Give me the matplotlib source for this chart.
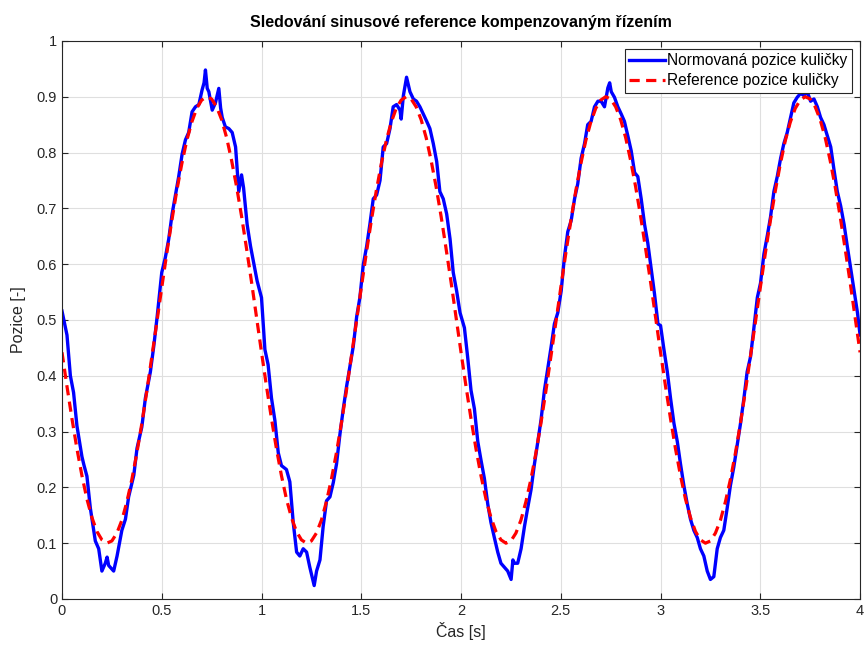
import numpy as np
import matplotlib
matplotlib.use("Agg")
import matplotlib.pyplot as plt

plt.rcParams['font.family'] = ['Liberation Sans', 'DejaVu Sans']

pos_t = [0.000, 0.025, 0.042, 0.058, 0.075, 0.100, 0.110, 0.125, 0.142, 0.167,
         0.184, 0.200, 0.217, 0.226, 0.234, 0.259, 0.276, 0.300, 0.318, 0.334,
         0.360, 0.376, 0.400, 0.418, 0.443, 0.460, 0.477, 0.500, 0.518, 0.535,
         0.552, 0.569, 0.585, 0.602, 0.619, 0.635, 0.652, 0.669, 0.686, 0.702,
         0.712, 0.719, 0.728, 0.736, 0.753, 0.769, 0.786, 0.795, 0.803, 0.819,
         0.836, 0.853, 0.870, 0.886, 0.900, 0.910, 0.928, 0.945, 0.962, 0.978,
         1.000, 1.017, 1.033, 1.050, 1.067, 1.084, 1.100, 1.125, 1.142, 1.159,
         1.176, 1.192, 1.209, 1.226, 1.242, 1.264, 1.276, 1.293, 1.309, 1.326,
         1.343, 1.360, 1.376, 1.393, 1.410, 1.426, 1.443, 1.460, 1.477, 1.493,
         1.510, 1.527, 1.543, 1.560, 1.577, 1.594, 1.610, 1.627, 1.644, 1.660,
         1.677, 1.694, 1.700, 1.711, 1.727, 1.744, 1.761, 1.777, 1.794, 1.811,
         1.828, 1.844, 1.861, 1.878, 1.894, 1.911, 1.928, 1.945, 1.961, 1.978,
         1.995, 2.017, 2.033, 2.050, 2.067, 2.084, 2.100, 2.117, 2.134, 2.150,
         2.167, 2.184, 2.200, 2.217, 2.234, 2.251, 2.260, 2.268, 2.284, 2.301,
         2.318, 2.334, 2.351, 2.368, 2.385, 2.401, 2.418, 2.435, 2.452, 2.468,
         2.485, 2.502, 2.518, 2.535, 2.552, 2.569, 2.585, 2.602, 2.619, 2.635,
         2.652, 2.669, 2.686, 2.702, 2.719, 2.736, 2.745, 2.753, 2.769, 2.786,
         2.803, 2.819, 2.836, 2.853, 2.870, 2.886, 2.903, 2.920, 2.936, 2.953,
         2.970, 2.987, 3.000, 3.017, 3.034, 3.050, 3.067, 3.084, 3.100, 3.117,
         3.134, 3.150, 3.167, 3.184, 3.200, 3.217, 3.234, 3.250, 3.267, 3.284,
         3.300, 3.317, 3.334, 3.350, 3.367, 3.384, 3.401, 3.418, 3.434, 3.451,
         3.468, 3.485, 3.501, 3.518, 3.535, 3.551, 3.568, 3.585, 3.602, 3.618,
         3.635, 3.652, 3.668, 3.685, 3.702, 3.719, 3.735, 3.752, 3.769, 3.786,
         3.802, 3.819, 3.836, 3.853, 3.869, 3.886, 3.903, 3.920, 3.936, 3.953,
         3.970, 3.987, 4.000]
pos_v = [0.516, 0.473, 0.400, 0.370, 0.310, 0.255, 0.240, 0.220, 0.163, 0.104,
         0.090, 0.050, 0.064, 0.075, 0.060, 0.050, 0.077, 0.123, 0.143, 0.183,
         0.222, 0.270, 0.308, 0.360, 0.407, 0.453, 0.506, 0.585, 0.612, 0.645,
         0.690, 0.724, 0.757, 0.797, 0.823, 0.836, 0.873, 0.882, 0.886, 0.912,
         0.925, 0.948, 0.915, 0.909, 0.876, 0.889, 0.915, 0.880, 0.863, 0.846,
         0.843, 0.836, 0.810, 0.730, 0.760, 0.737, 0.671, 0.632, 0.600, 0.570,
         0.540, 0.447, 0.420, 0.360, 0.320, 0.262, 0.239, 0.232, 0.210, 0.137,
         0.084, 0.077, 0.090, 0.084, 0.057, 0.024, 0.050, 0.070, 0.130, 0.176,
         0.183, 0.209, 0.242, 0.295, 0.341, 0.380, 0.417, 0.453, 0.506, 0.540,
         0.599, 0.632, 0.671, 0.717, 0.724, 0.750, 0.810, 0.816, 0.843, 0.882,
         0.886, 0.876, 0.860, 0.902, 0.935, 0.909, 0.896, 0.892, 0.882, 0.869,
         0.856, 0.843, 0.816, 0.784, 0.730, 0.717, 0.690, 0.645, 0.585, 0.552,
         0.513, 0.486, 0.434, 0.374, 0.341, 0.282, 0.249, 0.216, 0.170, 0.137,
         0.110, 0.084, 0.064, 0.057, 0.050, 0.035, 0.070, 0.064, 0.064, 0.090,
         0.130, 0.163, 0.196, 0.242, 0.282, 0.321, 0.374, 0.413, 0.453, 0.493,
         0.513, 0.552, 0.612, 0.658, 0.678, 0.717, 0.744, 0.790, 0.816, 0.850,
         0.856, 0.882, 0.892, 0.892, 0.882, 0.916, 0.925, 0.909, 0.899, 0.882,
         0.869, 0.856, 0.830, 0.803, 0.764, 0.757, 0.717, 0.671, 0.638, 0.592,
         0.546, 0.493, 0.490, 0.447, 0.407, 0.360, 0.315, 0.282, 0.242, 0.203,
         0.170, 0.143, 0.123, 0.110, 0.090, 0.077, 0.050, 0.035, 0.040, 0.090,
         0.110, 0.123, 0.163, 0.203, 0.236, 0.275, 0.315, 0.360, 0.407, 0.434,
         0.486, 0.540, 0.566, 0.618, 0.651, 0.684, 0.730, 0.757, 0.790, 0.816,
         0.836, 0.863, 0.889, 0.899, 0.906, 0.902, 0.909, 0.892, 0.896, 0.882,
         0.863, 0.850, 0.830, 0.810, 0.770, 0.730, 0.704, 0.671, 0.632, 0.592,
         0.552, 0.513, 0.473]

# reference, sampled every 0.025 s from 0 to 4 s
ref_dt = 0.025
ref_v = [0.442, 0.381, 0.323, 0.269, 0.221, 0.179, 0.146, 0.121, 0.106, 0.100,
         0.104, 0.118, 0.141, 0.174, 0.214, 0.261, 0.314, 0.372, 0.433, 0.495,
         0.558, 0.619, 0.677, 0.731, 0.779, 0.821, 0.854, 0.879, 0.894, 0.900,
         0.896, 0.882, 0.859, 0.827, 0.786, 0.739, 0.686, 0.628, 0.568, 0.505,
         0.442, 0.381, 0.323, 0.269, 0.221, 0.179, 0.146, 0.121, 0.106, 0.100,
         0.104, 0.118, 0.141, 0.174, 0.214, 0.261, 0.314, 0.372, 0.433, 0.495,
         0.558, 0.619, 0.677, 0.731, 0.779, 0.821, 0.854, 0.879, 0.894, 0.900,
         0.896, 0.882, 0.859, 0.827, 0.786, 0.739, 0.686, 0.628, 0.568, 0.505,
         0.442, 0.381, 0.323, 0.269, 0.221, 0.179, 0.146, 0.121, 0.106, 0.100,
         0.104, 0.118, 0.141, 0.174, 0.214, 0.261, 0.314, 0.372, 0.433, 0.495,
         0.558, 0.619, 0.677, 0.731, 0.779, 0.821, 0.854, 0.879, 0.894, 0.900,
         0.896, 0.882, 0.859, 0.827, 0.786, 0.739, 0.686, 0.628, 0.568, 0.505,
         0.442, 0.381, 0.323, 0.269, 0.221, 0.179, 0.146, 0.121, 0.106, 0.100,
         0.104, 0.118, 0.141, 0.174, 0.214, 0.261, 0.314, 0.372, 0.433, 0.495,
         0.558, 0.619, 0.677, 0.731, 0.779, 0.821, 0.854, 0.879, 0.894, 0.900,
         0.896, 0.882, 0.859, 0.827, 0.786, 0.739, 0.686, 0.628, 0.568, 0.505,
         0.442]
ref_t = np.arange(len(ref_v)) * ref_dt

x_ticks = [0, 0.5, 1, 1.5, 2, 2.5, 3, 3.5, 4]
x_labels = ['0', '0.5', '1', '1.5', '2', '2.5', '3', '3.5', '4']
y_ticks = [0, 0.1, 0.2, 0.3, 0.4, 0.5, 0.6, 0.7, 0.8, 0.9, 1]
y_labels = ['0', '0.1', '0.2', '0.3', '0.4', '0.5', '0.6', '0.7', '0.8', '0.9', '1']

fig = plt.figure(figsize=(8.67, 6.5), dpi=100)
ax = fig.add_axes([0.0715, 0.0785, 0.9205, 0.8585])

ax.plot(pos_t, pos_v, color=(0, 0, 1), lw=2.4, label='Normovaná pozice kuličky')
ax.plot(ref_t, ref_v, color=(1, 0, 0), lw=2.3, dashes=(3.2, 2.0),
        label='Reference pozice kuličky')

ax.set_xlim(0, 4)
ax.set_ylim(0, 1)
ax.set_xticks(x_ticks)
ax.set_xticklabels(x_labels)
ax.set_yticks(y_ticks)
ax.set_yticklabels(y_labels)
ax.tick_params(direction='in', length=4, width=0.8, top=True, right=True,
               labelsize=10.5, colors='#262626')
ax.grid(True, color='#dfdfdf', lw=0.8)
ax.set_axisbelow(True)
for s in ax.spines.values():
    s.set_color('#262626')
    s.set_linewidth(0.8)

ax.set_title('Sledování sinusové reference kompenzovaným řízením',
             fontsize=11.5, fontweight='bold', pad=10)
ax.set_xlabel('Čas [s]', fontsize=11.5, color='#262626', labelpad=3)
ax.set_ylabel('Pozice [-]', fontsize=11.5, color='#262626', labelpad=8)

leg = ax.legend(loc='upper right', fontsize=11.2, handlelength=2.3,
                handletextpad=0.15, borderpad=0.3, labelspacing=0.3,
                borderaxespad=0.5, fancybox=False, framealpha=1)
leg.get_frame().set_edgecolor('#262626')
leg.get_frame().set_linewidth(0.8)

fig.savefig('out.png', dpi=100)
